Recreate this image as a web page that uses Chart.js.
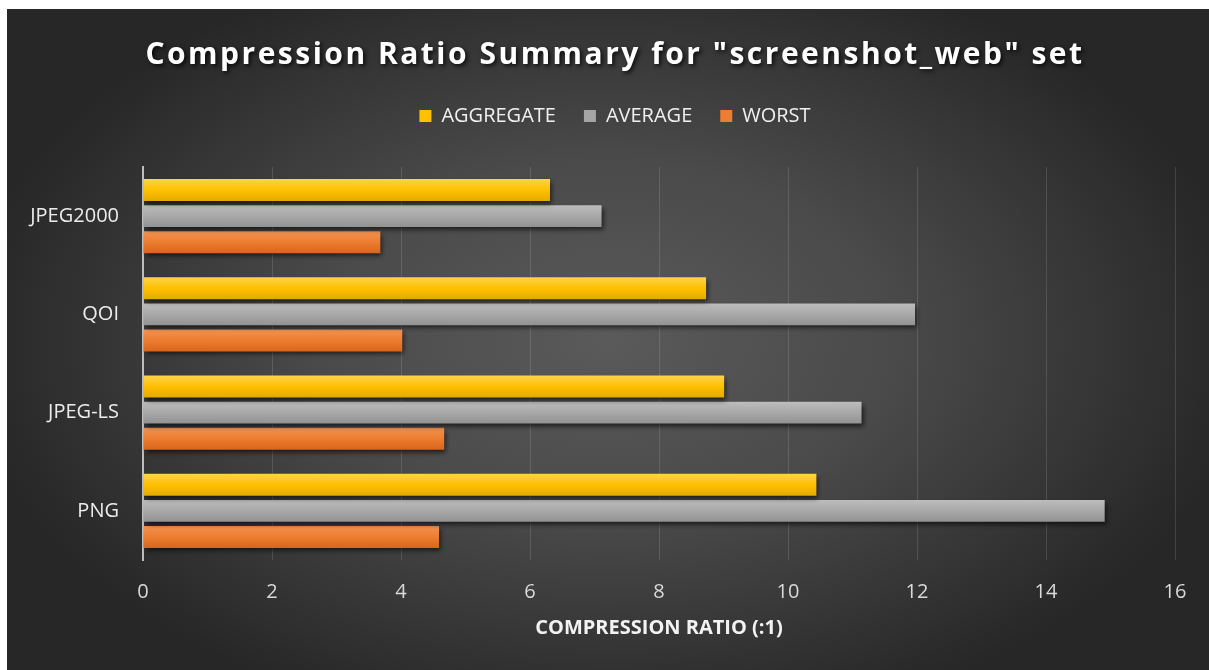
<!DOCTYPE html>
<html><head><meta charset="utf-8">
<script src="https://cdn.jsdelivr.net/npm/chart.js@4.4.1/dist/chart.umd.min.js"></script>
<style>
html,body{margin:0;padding:0;background:#ffffff;width:1209px;height:670px;overflow:hidden}
#wrap{position:absolute;left:7px;top:9px;width:1202px;height:661px}
</style></head><body>
<div id="wrap"><canvas id="c"></canvas></div>
<script>
// ---- data ----
const categories = ['JPEG2000', 'QOI', 'JPEG-LS', 'PNG'];
const seriesNames = ['AGGREGATE', 'AVERAGE', 'WORST'];
const aggregateValues = [6.31, 8.73, 9.01, 10.44];
const averageValues = [7.11, 11.97, 11.14, 14.91];
const worstValues = [3.68, 4.02, 4.67, 4.59];
const xMin = 0, xMax = 16, xStep = 2;
const chartTitle = 'Compression Ratio Summary for "screenshot_web" set';
const xAxisTitle = 'COMPRESSION RATIO (:1)';

// ---- styles ----
const baseColors = ['#ffc000', '#a5a5a5', '#ed7d31'];
const gradStops = [
  ['#ffd24a', '#ffc000', '#e3aa00'],
  ['#bdbdbd', '#a8a8a8', '#929292'],
  ['#f39352', '#ed7d31', '#d8661d']
];
const headerShift = 24;

const bgPlugin = {
  id: 'bg',
  beforeDraw(chart) {
    const ctx = chart.ctx, w = chart.width, h = chart.height;
    ctx.save();
    ctx.fillStyle = '#272727';
    ctx.fillRect(0, 0, w, h);
    const cx = 600, cy = 330, r = 640, sy = 0.62;
    ctx.translate(cx, cy);
    ctx.scale(1, sy);
    const g = ctx.createRadialGradient(0, 0, 0, 0, 0, r);
    g.addColorStop(0, '#5a5a5a');
    g.addColorStop(0.45, '#4a4a4a');
    g.addColorStop(1, '#272727');
    ctx.fillStyle = g;
    ctx.fillRect(-cx, -cy / sy, w, h / sy);
    ctx.restore();
  }
};

const stylePlugin = {
  id: 'styler',
  beforeLayout(chart) {
    if (chart.$wrapped) return;
    chart.$wrapped = true;
    const tb = chart.titleBlock;
    if (tb) {
      const od = tb.draw.bind(tb);
      tb.draw = function () {
        const c = chart.ctx;
        c.save();
        c.translate(headerShift, 0);
        c.letterSpacing = '2.5px';
        c.shadowColor = 'rgba(0,0,0,0.8)';
        c.shadowBlur = 4;
        c.shadowOffsetX = 2;
        c.shadowOffsetY = 2;
        od();
        c.restore();
      };
    }
    const lg = chart.legend;
    if (lg) {
      const of = lg.fit.bind(lg);
      lg.fit = function () { of(); this.height += 31; };
      const ld = lg.draw.bind(lg);
      lg.draw = function () {
        const c = chart.ctx;
        c.save();
        c.translate(headerShift, 0);
        ld();
        c.restore();
      };
    }
  },
  beforeDatasetDraw(chart, args) {
    const ctx = chart.ctx;
    const stops = gradStops[args.index];
    args.meta.data.forEach(el => {
      const top = el.y - el.height / 2, bot = el.y + el.height / 2;
      const g = ctx.createLinearGradient(0, top, 0, bot);
      g.addColorStop(0, stops[0]);
      g.addColorStop(0.5, stops[1]);
      g.addColorStop(1, stops[2]);
      el.options.backgroundColor = g;
    });
    ctx.save();
    ctx.shadowColor = 'rgba(0,0,0,0.65)';
    ctx.shadowBlur = 5;
    ctx.shadowOffsetX = 2;
    ctx.shadowOffsetY = 3;
  },
  afterDatasetDraw(chart) {
    chart.ctx.restore();
  }
};

const seriesData = [aggregateValues, averageValues, worstValues];
const datasets = seriesNames.map((name, i) => ({
  label: name,
  data: seriesData[i],
  backgroundColor: (ctx) => baseColors[i],
  borderWidth: 0,
  categoryPercentage: 0.794,
  barPercentage: 0.846
}));

new Chart(document.getElementById('c'), {
  type: 'bar',
  data: { labels: categories, datasets },
  plugins: [bgPlugin, stylePlugin],
  options: {
    indexAxis: 'y',
    responsive: true,
    maintainAspectRatio: false,
    animation: false,
    layout: { padding: { left: 0, right: 34, top: 0, bottom: 0 } },
    plugins: {
      title: {
        display: true,
        text: chartTitle,
        color: '#ffffff',
        font: { family: '"Open Sans", sans-serif', size: 30, weight: 'bold' },
        padding: { top: 28, bottom: 5 }
      },
      legend: {
        display: true,
        position: 'top',
        labels: {
          color: '#f0f0f0',
          font: { family: '"Open Sans", sans-serif', size: 20 },
          boxWidth: 12,
          boxHeight: 12,
          padding: 28
        }
      },
      tooltip: { enabled: false }
    },
    scales: {
      x: {
        type: 'linear',
        position: 'bottom',
        min: xMin,
        max: xMax,
        ticks: {
          stepSize: xStep,
          color: '#d9d9d9',
          padding: 20,
          font: { family: '"Open Sans", sans-serif', size: 20 }
        },
        grid: { display: true, color: 'rgba(255,255,255,0.13)', lineWidth: 1, drawTicks: false },
        border: { display: false },
        title: {
          display: true,
          text: xAxisTitle,
          color: '#f2f2f2',
          font: { family: '"Open Sans", sans-serif', size: 20, weight: 'bold' },
          padding: { top: 4, bottom: 30 }
        },
        afterFit(s) { s.height = 110; }
      },
      y: {
        type: 'category',
        ticks: {
          color: '#ececec',
          padding: 24,
          font: { family: '"Open Sans", sans-serif', size: 20 }
        },
        grid: { display: false, drawTicks: false },
        border: { display: true, color: '#bdbdbd', width: 2 },
        afterFit(s) { s.width = 136; }
      }
    }
  }
});
</script>
</body></html>
